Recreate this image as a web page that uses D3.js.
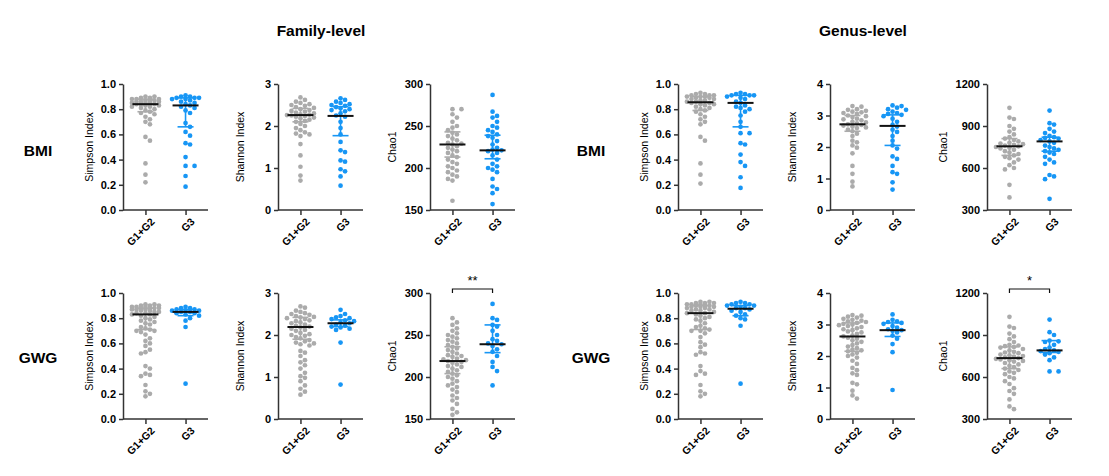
<!DOCTYPE html>
<html>
<head>
<meta charset="utf-8">
<script src="https://cdn.jsdelivr.net/npm/d3@7"></script>
<style>
  body { margin: 0; background: #fff; }
  svg { display: block; font-family: "Liberation Sans", Arial, sans-serif; }
</style>
</head>
<body>
<svg id="chart" width="1109" height="476"></svg>
<script>
const categories = ["G1+G2", "G3"];
const levels = ["Family-level", "Genus-level"];
const rowNames = ["BMI", "GWG"];
const metricNames = ["Simpson Index", "Shannon Index", "Chao1"];

// family level, BMI row
const famBmiSimpson = [
  [0.90, 0.90, 0.89, 0.89, 0.88, 0.88, 0.88, 0.87, 0.87, 0.87, 0.86, 0.86, 0.86, 0.85, 0.85, 0.85, 0.84, 0.84, 0.84, 0.83, 0.83, 0.82, 0.82, 0.81, 0.80, 0.79, 0.78, 0.77, 0.76, 0.74, 0.72, 0.70, 0.68, 0.58, 0.55, 0.37, 0.28, 0.22],
  [0.91, 0.90, 0.90, 0.89, 0.89, 0.89, 0.88, 0.88, 0.87, 0.86, 0.85, 0.84, 0.83, 0.82, 0.81, 0.79, 0.77, 0.69, 0.66, 0.62, 0.59, 0.53, 0.52, 0.42, 0.35, 0.35, 0.27, 0.185]
];
const famBmiShannon = [
  [2.68, 2.62, 2.58, 2.55, 2.52, 2.50, 2.48, 2.45, 2.43, 2.40, 2.38, 2.36, 2.34, 2.32, 2.30, 2.28, 2.27, 2.26, 2.25, 2.24, 2.22, 2.20, 2.18, 2.15, 2.12, 2.10, 2.05, 2.00, 1.95, 1.90, 1.85, 1.82, 1.80, 1.76, 1.57, 1.30, 1.03, 0.82, 0.70],
  [2.66, 2.62, 2.58, 2.55, 2.52, 2.50, 2.48, 2.45, 2.42, 2.40, 2.38, 2.35, 2.30, 2.25, 2.22, 2.10, 1.95, 1.80, 1.62, 1.42, 1.38, 1.18, 1.15, 0.97, 0.92, 0.80, 0.58]
];
const famBmiChao1 = [
  [270, 270, 264, 260, 255, 250, 248, 245, 242, 240, 238, 235, 233, 230, 229, 228, 226, 224, 222, 220, 218, 215, 213, 210, 207, 205, 202, 200, 197, 195, 192, 190, 187, 185, 161],
  [287, 267, 262, 260, 255, 250, 248, 245, 243, 240, 238, 236, 232, 228, 224, 222, 221, 220, 218, 215, 210, 205, 202, 200, 198, 195, 187, 178, 175, 170, 157]
];

// family level, GWG row
const famGwgSimpson = [
  [0.91, 0.91, 0.90, 0.90, 0.90, 0.89, 0.89, 0.89, 0.88, 0.88, 0.88, 0.88, 0.87, 0.87, 0.87, 0.86, 0.86, 0.85, 0.85, 0.84, 0.84, 0.83, 0.83, 0.82, 0.81, 0.80, 0.79, 0.78, 0.77, 0.76, 0.75, 0.73, 0.72, 0.71, 0.70, 0.70, 0.69, 0.67, 0.64, 0.62, 0.60, 0.58, 0.55, 0.53, 0.52, 0.42, 0.40, 0.36, 0.35, 0.34, 0.27, 0.22, 0.20, 0.18],
  [0.89, 0.88, 0.88, 0.87, 0.87, 0.86, 0.86, 0.86, 0.85, 0.85, 0.84, 0.84, 0.83, 0.82, 0.80, 0.78, 0.73, 0.28]
];
const famGwgShannon = [
  [2.68, 2.65, 2.58, 2.55, 2.52, 2.50, 2.48, 2.45, 2.43, 2.42, 2.40, 2.38, 2.35, 2.33, 2.30, 2.28, 2.25, 2.22, 2.20, 2.18, 2.15, 2.12, 2.10, 2.05, 2.02, 2.00, 1.98, 1.95, 1.92, 1.88, 1.85, 1.82, 1.80, 1.78, 1.75, 1.62, 1.58, 1.50, 1.40, 1.35, 1.28, 1.20, 1.10, 1.02, 0.98, 0.90, 0.80, 0.72, 0.65, 0.58],
  [2.60, 2.50, 2.45, 2.42, 2.40, 2.38, 2.35, 2.33, 2.30, 2.28, 2.25, 2.22, 2.20, 2.18, 2.15, 2.12, 1.82, 0.82]
];
const famGwgChao1 = [
  [270, 265, 262, 258, 255, 252, 250, 248, 246, 244, 242, 240, 238, 236, 234, 232, 230, 228, 226, 225, 224, 222, 221, 220, 219, 218, 217, 215, 213, 212, 210, 208, 206, 204, 202, 200, 198, 195, 192, 190, 188, 185, 182, 178, 175, 172, 168, 162, 158, 155],
  [287, 270, 268, 262, 260, 255, 250, 245, 243, 240, 239, 237, 233, 230, 225, 218, 212, 207, 190]
];

// genus level, BMI row
const genBmiSimpson = [
  [0.93, 0.92, 0.92, 0.91, 0.91, 0.91, 0.90, 0.90, 0.90, 0.89, 0.89, 0.88, 0.88, 0.87, 0.87, 0.86, 0.86, 0.85, 0.85, 0.84, 0.84, 0.83, 0.82, 0.81, 0.80, 0.79, 0.78, 0.76, 0.74, 0.72, 0.70, 0.68, 0.58, 0.55, 0.37, 0.28, 0.21],
  [0.93, 0.92, 0.92, 0.91, 0.91, 0.91, 0.90, 0.89, 0.88, 0.86, 0.85, 0.83, 0.82, 0.81, 0.80, 0.78, 0.75, 0.70, 0.66, 0.61, 0.61, 0.53, 0.52, 0.44, 0.38, 0.35, 0.26, 0.175]
];
const genBmiShannon = [
  [3.30, 3.28, 3.20, 3.18, 3.15, 3.12, 3.10, 3.08, 3.05, 3.00, 2.98, 2.95, 2.90, 2.88, 2.85, 2.80, 2.78, 2.75, 2.72, 2.70, 2.68, 2.65, 2.62, 2.60, 2.55, 2.50, 2.42, 2.35, 2.20, 2.15, 2.05, 1.98, 1.80, 1.40, 1.15, 0.90, 0.75],
  [3.32, 3.30, 3.25, 3.20, 3.18, 3.12, 3.08, 3.05, 3.02, 2.98, 2.90, 2.80, 2.70, 2.65, 2.55, 2.48, 2.35, 2.20, 2.05, 1.95, 1.70, 1.62, 1.40, 1.20, 1.15, 0.88, 0.65]
];
const genBmiChao1 = [
  [1030, 960, 950, 900, 880, 860, 840, 820, 810, 800, 790, 780, 775, 770, 765, 760, 755, 750, 745, 740, 730, 720, 710, 700, 690, 680, 670, 660, 640, 620, 600, 590, 480, 390],
  [1010, 920, 910, 880, 860, 850, 830, 820, 815, 810, 800, 790, 780, 760, 750, 740, 730, 720, 710, 700, 680, 660, 640, 630, 550, 540, 520, 380]
];

// genus level, GWG row
const genGwgSimpson = [
  [0.93, 0.93, 0.92, 0.92, 0.92, 0.91, 0.91, 0.91, 0.90, 0.90, 0.90, 0.89, 0.89, 0.89, 0.88, 0.88, 0.87, 0.87, 0.86, 0.86, 0.85, 0.84, 0.84, 0.83, 0.82, 0.81, 0.80, 0.79, 0.78, 0.76, 0.74, 0.73, 0.72, 0.71, 0.70, 0.70, 0.68, 0.65, 0.61, 0.59, 0.57, 0.53, 0.52, 0.51, 0.42, 0.38, 0.36, 0.35, 0.27, 0.22, 0.20, 0.18],
  [0.93, 0.92, 0.92, 0.91, 0.91, 0.90, 0.90, 0.89, 0.88, 0.88, 0.87, 0.86, 0.85, 0.83, 0.82, 0.80, 0.79, 0.74, 0.28]
];
const genGwgShannon = [
  [3.30, 3.28, 3.25, 3.22, 3.18, 3.15, 3.12, 3.10, 3.08, 3.05, 3.02, 3.00, 2.98, 2.95, 2.92, 2.88, 2.85, 2.82, 2.78, 2.75, 2.70, 2.65, 2.62, 2.58, 2.55, 2.50, 2.45, 2.40, 2.35, 2.30, 2.25, 2.20, 2.18, 2.15, 2.10, 2.05, 2.00, 1.95, 1.85, 1.75, 1.62, 1.55, 1.45, 1.40, 1.15, 1.10, 0.90, 0.75, 0.65],
  [3.32, 3.15, 3.10, 3.08, 3.05, 3.02, 2.95, 2.90, 2.85, 2.82, 2.80, 2.75, 2.65, 2.55, 2.38, 2.12, 0.92]
];
const genGwgChao1 = [
  [1030, 960, 950, 910, 890, 870, 850, 830, 825, 820, 815, 810, 800, 790, 780, 775, 770, 760, 755, 750, 745, 740, 735, 730, 725, 720, 715, 710, 700, 690, 680, 670, 660, 650, 640, 630, 620, 600, 590, 570, 550, 520, 500, 480, 440, 390, 370],
  [1010, 920, 900, 860, 855, 850, 830, 810, 800, 790, 785, 780, 770, 760, 740, 720, 640, 640]
];

// median and interquartile bars, [G1+G2, G3], in panel order
const medians = [[0.84, 0.83], [2.26, 2.24], [228, 221], [0.83, 0.85], [2.19, 2.28], [219, 239],
                 [0.855, 0.85], [2.72, 2.67], [755, 790], [0.84, 0.875], [2.62, 2.82], [735, 790]];
const lowerBars = [[0.78, 0.66], [2.10, 1.77], [213, 211], [0.71, 0.82], [1.90, 2.20], [204, 229],
                   [0.79, 0.66], [2.50, 2.05], [690, 720], [0.71, 0.82], [2.15, 2.62], [660, 775]];
const upperBars = [[0.88, 0.89], [2.42, 2.46], [243, 239], [0.88, 0.87], [2.42, 2.36], [236, 262],
                   [0.90, 0.91], [3.00, 3.02], [810, 820], [0.90, 0.90], [3.05, 3.05], [815, 860]];

// axis domains and ticks per metric, family then genus
const famDomains = [[0, 1], [0, 3], [150, 300]];
const genDomains = [[0, 1], [0, 4], [300, 1200]];
const famTicks = [[0, 0.2, 0.4, 0.6, 0.8, 1.0], [0, 1, 2, 3], [150, 200, 250, 300]];
const genTicks = [[0, 0.2, 0.4, 0.6, 0.8, 1.0], [0, 1, 2, 3, 4], [300, 600, 900, 1200]];

// significance marks: [panel index, label]
const sigMarks = [[5, "**"], [11, "*"]];

const panelData = [famBmiSimpson, famBmiShannon, famBmiChao1, famGwgSimpson, famGwgShannon, famGwgChao1,
                   genBmiSimpson, genBmiShannon, genBmiChao1, genGwgSimpson, genGwgShannon, genGwgChao1];

const colors = ["#ababab", "#1796f5"];
const svg = d3.select("#chart");

const axisLeftX = [[123, 278, 430], [678, 830, 987]];
const titleOffset = [[-30, -34, -34], [-30, -34, -40]];
const rowTop = [84, 293];
const plotH = 126, plotW = 85, r = 2.35;

// beeswarm: nudge sideways until clear; in crowded spots take the least overlapping slot
function swarm(values, y) {
  const pts = values.map((v) => ({ v, y: y(v), dx: 0 })).sort((a, b) => a.y - b.y);
  const placed = [];
  const step = 4.5, minD = 4.6, maxOff = 14;
  for (const p of pts) {
    let best = 0, bestGap = -1;
    for (let k = 0; k < 40; k++) {
      const off = k === 0 ? 0 : (k % 2 ? 1 : -1) * Math.ceil(k / 2) * step;
      if (Math.abs(off) > maxOff) break;
      let gap = Infinity;
      for (const q of placed) gap = Math.min(gap, Math.hypot(q.dx - off, q.y - p.y));
      if (gap >= minD) { best = off; bestGap = gap; break; }
      if (gap > bestGap) { bestGap = gap; best = off; }
    }
    p.dx = best;
    placed.push(p);
  }
  return pts;
}

// titles and row labels
levels.forEach((t, li) => {
  svg.append("text")
    .attr("x", li === 0 ? 321 : 863).attr("y", 36)
    .attr("text-anchor", "middle")
    .style("font-size", "15.5px").style("font-weight", "bold")
    .text(t);
  rowNames.forEach((rn, ri) => {
    svg.append("text")
      .attr("x", li === 0 ? 38 : 591).attr("y", ri === 0 ? 156 : 363)
      .attr("text-anchor", "middle")
      .style("font-size", "15.5px").style("font-weight", "bold")
      .text(rn);
  });
});

for (let li = 0; li < 2; li++) {
  for (let ri = 0; ri < 2; ri++) {
    for (let mi = 0; mi < 3; mi++) {
      const idx = li * 6 + ri * 3 + mi;
      const dom = (li === 0 ? famDomains : genDomains)[mi];
      const ticks = (li === 0 ? famTicks : genTicks)[mi];
      const g = svg.append("g")
        .attr("transform", `translate(${axisLeftX[li][mi]},${rowTop[ri]})`);

      const x = d3.scalePoint().domain(categories).range([0, plotW]).padding(0.56);
      const y = d3.scaleLinear().domain(dom).range([plotH, 0]);
      const fmt = mi === 0 ? d3.format(".1f") : d3.format("d");

      // dots
      panelData[idx].forEach((vals, ci) => {
        const pts = swarm(vals, y);
        g.append("g").selectAll("circle").data(pts).join("circle")
          .attr("cx", (d) => x(categories[ci]) + d.dx)
          .attr("cy", (d) => d.y)
          .attr("r", r)
          .attr("fill", colors[ci]);
      });

      // interquartile bars and medians
      categories.forEach((c, ci) => {
        const cx = x(c);
        const lo = y(lowerBars[idx][ci]), hi = y(upperBars[idx][ci]);
        const bar = g.append("g").attr("stroke", colors[ci]).attr("stroke-width", 1.6);
        bar.append("line").attr("x1", cx).attr("x2", cx).attr("y1", lo).attr("y2", hi);
        bar.append("line").attr("x1", cx - 8).attr("x2", cx + 8).attr("y1", lo).attr("y2", lo);
        bar.append("line").attr("x1", cx - 8).attr("x2", cx + 8).attr("y1", hi).attr("y2", hi);
        g.append("line")
          .attr("x1", cx - 13).attr("x2", cx + 13)
          .attr("y1", y(medians[idx][ci])).attr("y2", y(medians[idx][ci]))
          .attr("stroke", "#111").attr("stroke-width", 2);
      });

      // y axis
      const ya = g.append("g")
        .call(d3.axisLeft(y).tickValues(ticks).tickFormat(fmt).tickSize(4).tickSizeOuter(0));
      ya.selectAll("path, line").attr("stroke", "#333").attr("stroke-width", 1.5);
      ya.selectAll("text").attr("fill", "#000").style("font-size", "11px").style("font-weight", "bold");

      // x axis
      const xa = g.append("g").attr("transform", `translate(0,${plotH})`)
        .call(d3.axisBottom(x).tickSize(5).tickSizeOuter(0));
      xa.select("path").attr("d", `M0,0H${plotW}`);
      xa.selectAll("path, line").attr("stroke", "#333").attr("stroke-width", 1.5);
      xa.selectAll("text")
        .attr("fill", "#000")
        .style("font-size", "10.5px").style("font-weight", "bold")
        .attr("text-anchor", "end")
        .attr("transform", "translate(4,4) rotate(-45)")
        .attr("dy", "0.35em").attr("y", 6).attr("x", -2);

      // axis title
      g.append("text")
        .attr("transform", `translate(${titleOffset[li][mi]},${plotH / 2}) rotate(-90)`)
        .attr("text-anchor", "middle")
        .style("font-size", "10.5px")
        .text(metricNames[mi]);

      // significance bracket
      const sig = sigMarks.find((s) => s[0] === idx);
      if (sig) {
        const x0 = x(categories[0]), x1 = x(categories[1]);
        g.append("path")
          .attr("d", `M${x0},0V-4H${x1}V0`)
          .attr("fill", "none").attr("stroke", "#111").attr("stroke-width", 1.2);
        g.append("text")
          .attr("x", (x0 + x1) / 2).attr("y", -8)
          .attr("text-anchor", "middle")
          .style("font-size", "13px")
          .text(sig[1]);
      }
    }
  }
}
</script>
</body>
</html>
